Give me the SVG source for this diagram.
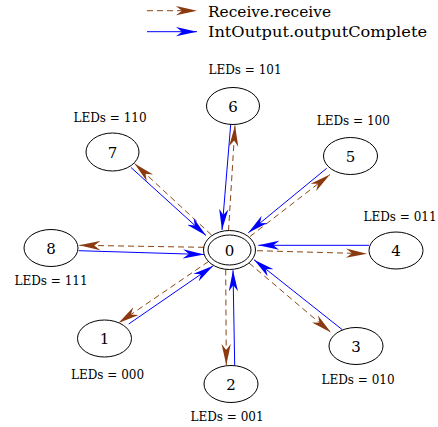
<svg xmlns="http://www.w3.org/2000/svg" width="438" height="427" viewBox="0 0 438 427">
<style>
.node ellipse{fill:none;stroke:#000;stroke-width:1}
.num{font-family:"DejaVu Serif","Liberation Serif",serif;font-size:15px;text-anchor:middle;fill:#000}
.lbl{font-family:"DejaVu Serif","Liberation Serif",serif;font-size:12px;text-anchor:middle;fill:#000}
.leg{font-family:"DejaVu Serif","Liberation Serif",serif;font-size:15.5px;fill:#000}
.rcv{fill:none;stroke:#8B4513;stroke-width:1;stroke-dasharray:6,4;marker-end:url(#ab)}
.out{fill:none;stroke:#0000FF;stroke-width:1;marker-end:url(#af)}
</style>
<defs>
<marker id="ab" markerUnits="userSpaceOnUse" markerWidth="21" markerHeight="10" viewBox="0 -5 21 10" refX="21" refY="0" orient="auto"><path d="M0,-4.6 L21,0 L0,4.6 L6,0 z" fill="#8B3A0F"/></marker>
<marker id="af" markerUnits="userSpaceOnUse" markerWidth="21" markerHeight="10" viewBox="0 -5 21 10" refX="21" refY="0" orient="auto"><path d="M0,-4.6 L21,0 L0,4.6 L6,0 z" fill="#0000FF"/></marker>
</defs>
<g id="legend">
<line class="rcv" x1="147" y1="10.7" x2="197" y2="10.7"/>
<text class="leg" x="208" y="16.7" textLength="123" lengthAdjust="spacingAndGlyphs">Receive.receive</text>
<line class="out" x1="147" y1="31.7" x2="197" y2="31.7"/>
<text class="leg" x="208" y="36.5" textLength="219" lengthAdjust="spacingAndGlyphs">IntOutput.outputComplete</text>
</g>
<g id="edges">
<line class="rcv" x1="228.5" y1="231" x2="235" y2="125.5"/>
<line class="out" x1="230.7" y1="124.5" x2="222" y2="230"/>
<line class="rcv" x1="211.5" y1="235" x2="134.5" y2="163.5"/>
<line class="out" x1="131" y1="167.5" x2="206" y2="235.5"/>
<line class="rcv" x1="250" y1="236.5" x2="330" y2="174.5"/>
<line class="out" x1="326.7" y1="168.3" x2="248.3" y2="232.7"/>
<line class="rcv" x1="257" y1="250.7" x2="367" y2="253.7"/>
<line class="out" x1="369" y1="245.3" x2="258.3" y2="245.3"/>
<line class="rcv" x1="249" y1="263" x2="331" y2="332.5"/>
<line class="out" x1="342.3" y1="329.7" x2="254" y2="259.7"/>
<line class="rcv" x1="225.7" y1="269.5" x2="226.3" y2="365"/>
<line class="out" x1="234.7" y1="365.3" x2="233" y2="270.3"/>
<line class="rcv" x1="208.5" y1="261.5" x2="118.5" y2="323"/>
<line class="out" x1="128.7" y1="324" x2="213.3" y2="265.7"/>
<line class="rcv" x1="204" y1="247.3" x2="79.3" y2="245.3"/>
<line class="out" x1="78.7" y1="250.7" x2="204" y2="254.5"/>
</g>
<g id="n0" class="node"><ellipse cx="229.5" cy="250" rx="26" ry="19.5"/><ellipse cx="229.5" cy="250" rx="21.5" ry="15"/><text class="num" x="229.5" y="255.5">0</text></g>
<g id="n1" class="node"><ellipse cx="104.5" cy="338.5" rx="27" ry="18.5"/><text class="num" x="104.5" y="344">1</text><text class="lbl" x="107.5" y="379.3">LEDs = 000</text></g>
<g id="n2" class="node"><ellipse cx="231" cy="384" rx="27" ry="18.5"/><text class="num" x="231" y="389.5">2</text><text class="lbl" x="227" y="420.7">LEDs = 001</text></g>
<g id="n3" class="node"><ellipse cx="356" cy="346" rx="27" ry="18.5"/><text class="num" x="356" y="351.5">3</text><text class="lbl" x="358" y="384">LEDs = 010</text></g>
<g id="n4" class="node"><ellipse cx="396" cy="250.5" rx="27" ry="18.5"/><text class="num" x="396" y="256">4</text><text class="lbl" x="400" y="220.5">LEDs = 011</text></g>
<g id="n5" class="node"><ellipse cx="350.5" cy="156" rx="27" ry="18.5"/><text class="num" x="350.5" y="161.5">5</text><text class="lbl" x="353.3" y="125">LEDs = 100</text></g>
<g id="n6" class="node"><ellipse cx="233" cy="106" rx="26.5" ry="18.5"/><text class="num" x="233" y="111.5">6</text><text class="lbl" x="245" y="74">LEDs = 101</text></g>
<g id="n7" class="node"><ellipse cx="112.5" cy="152" rx="26.5" ry="19"/><text class="num" x="112.5" y="157.5">7</text><text class="lbl" x="110" y="122.3">LEDs = 110</text></g>
<g id="n8" class="node"><ellipse cx="51" cy="248" rx="27" ry="18.5"/><text class="num" x="51" y="253.5">8</text><text class="lbl" x="51" y="285">LEDs = 111</text></g>
</svg>
